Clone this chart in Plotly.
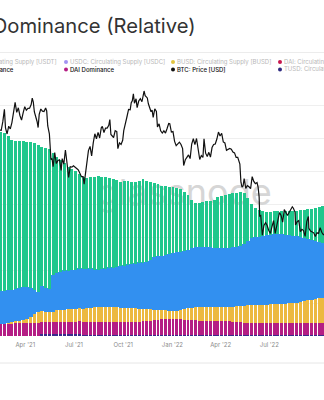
import pandas as pd
import plotly.graph_objects as go

# ---------------------------------------------------------------
# Weekly stablecoin dominance (%), stacked bottom -> top
# ---------------------------------------------------------------
week_start = "2021-02-14"

tusd_dom = [0.1, 0.1, 0.1, 0.1, 0.1, 0.1, 0.1, 0.1, 0.1, 0.1,
            0.1, 0.6, 0.6, 0.6, 0.6, 0.6, 0.6, 0.6, 0.6, 0.6,
            0.6, 0.6, 0.35, 0.35, 0.35, 0.35, 0.35, 0.35, 0.35, 0.35,
            0.35, 0.35, 0.35, 0.35, 0.35, 0.35, 0.35, 0.35, 0.35, 0.35,
            0.35, 0.35, 0.35, 0.35, 0.35, 0.35, 0.35, 0.35, 0.35, 0.35,
            0.35, 0.35, 0.35, 0.35, 0.35, 0.35, 0.35, 0.35, 0.35, 0.35,
            0.35, 0.35, 0.35, 0.35, 0.35, 0.35, 0.35, 0.35, 0.35, 0.35,
            0.35, 0.35, 0.35, 0.35, 0.35, 0.35, 0.35, 0.35, 0.35, 0.35,
            0.35, 0.35, 0.35, 0.35, 0.35, 0.35, 0.35]

dai_dom = [3.8, 3.8, 3.8, 3.8, 3.8, 3.8, 3.8, 3.8, 3.8, 3.8,
           3.8, 3.6, 3.6, 3.6, 3.6, 3.7, 3.7, 3.7, 3.7, 3.7,
           3.7, 3.8, 3.8, 3.8, 3.8, 3.8, 3.8, 3.8, 3.8, 3.8,
           3.8, 3.8, 3.8, 3.8, 3.8, 3.8, 3.8, 3.8, 4.1, 4.1,
           4.1, 4.4, 4.4, 4.7, 4.7, 4.7, 4.7, 4.7, 4.7, 4.4,
           4.4, 4.4, 4.4, 4.1, 4.1, 4.1, 4.1, 4.1, 4.1, 4.1,
           4.1, 4.1, 3.8, 3.8, 3.8, 3.5, 3.5, 3.5, 3.5, 3.5,
           3.5, 3.5, 3.5, 3.5, 3.5, 3.5, 3.5, 3.5, 3.5, 3.5,
           3.5, 3.5, 3.5, 3.5, 3.5, 3.5, 3.5]

busd_dom = [0.0, 0.0, 0.3, 0.6, 0.9, 0.9, 1.2, 1.5, 2.1, 3.0,
            3.6, 3.6, 3.3, 3.3, 3.3, 3.6, 3.6, 3.6, 3.9, 3.9,
            3.9, 4.2, 4.2, 4.5, 4.5, 4.8, 4.8, 4.8, 4.8, 4.8,
            4.8, 4.8, 4.5, 4.5, 4.5, 4.5, 4.5, 4.2, 3.9, 3.9,
            3.9, 3.3, 3.3, 3.0, 3.0, 2.7, 2.7, 2.7, 3.0, 3.6,
            3.9, 3.9, 4.2, 4.5, 4.5, 4.5, 4.5, 4.5, 4.5, 4.5,
            4.5, 4.5, 4.8, 5.2, 5.2, 5.5, 5.8, 5.8, 5.8, 5.8,
            5.8, 5.8, 6.1, 6.1, 6.1, 6.1, 6.1, 6.4, 6.4, 6.4,
            6.7, 7.0, 7.3, 7.3, 7.6, 7.9, 7.9]

usdc_dom = [9.7, 9.7, 9.7, 9.4, 9.4, 9.7, 9.7, 9.4, 8.5, 7.0,
            5.8, 7.3, 7.0, 6.7, 10.9, 11.2, 11.5, 11.8, 11.5, 11.8,
            11.8, 11.8, 12.1, 11.8, 11.8, 11.2, 11.2, 11.5, 11.5, 11.8,
            11.8, 12.1, 12.7, 12.7, 13.0, 13.3, 13.3, 13.9, 13.9, 14.2,
            14.8, 15.8, 16.1, 16.1, 16.4, 17.0, 17.3, 17.6, 17.3, 17.3,
            17.3, 17.9, 17.9, 17.9, 17.9, 17.9, 17.9, 17.6, 17.6, 17.6,
            17.6, 17.6, 17.9, 17.6, 17.9, 18.5, 19.1, 20.0, 20.3, 20.3,
            20.6, 20.9, 20.6, 20.9, 20.9, 20.9, 20.6, 20.3, 20.0, 20.0,
            19.4, 18.8, 18.2, 17.9, 17.3, 16.7, 16.4]

usdt_dom = [48.2, 47.9, 46.7, 45.5, 44.8, 44.5, 44.2, 43.9, 44.2, 44.5,
            44.5, 42.1, 42.4, 42.4, 37.0, 35.2, 33.9, 32.7, 31.5, 30.6,
            30.0, 28.8, 27.6, 27.3, 27.6, 27.9, 28.2, 27.6, 27.6, 27.0,
            26.7, 26.1, 25.2, 25.5, 25.2, 24.8, 24.8, 24.8, 25.2, 24.5,
            23.6, 22.4, 21.8, 21.2, 20.9, 20.3, 20.0, 19.4, 19.1, 17.9,
            16.7, 14.8, 13.6, 13.6, 13.9, 14.2, 14.2, 14.8, 15.5, 15.8,
            16.1, 16.4, 16.4, 16.4, 16.4, 15.5, 13.0, 10.3, 8.8, 8.2,
            7.6, 7.0, 7.0, 7.0, 7.0, 7.0, 7.3, 7.3, 7.6, 7.6,
            8.2, 8.5, 9.1, 9.4, 10.0, 10.6, 11.2]

# ---------------------------------------------------------------
# BTC price (USD)
# ---------------------------------------------------------------
btc_dates = [
    "2021-02-12", "2021-02-15", "2021-02-18", "2021-02-21", "2021-02-23", "2021-02-26",
    "2021-03-01", "2021-03-04", "2021-03-07", "2021-03-10", "2021-03-13", "2021-03-16",
    "2021-03-19", "2021-03-22", "2021-03-25", "2021-03-28", "2021-03-31", "2021-04-03",
    "2021-04-06", "2021-04-09", "2021-04-12", "2021-04-14", "2021-04-16", "2021-04-18",
    "2021-04-21", "2021-04-23", "2021-04-25", "2021-04-27", "2021-04-30", "2021-05-03",
    "2021-05-06", "2021-05-09", "2021-05-11", "2021-05-13", "2021-05-16", "2021-05-19",
    "2021-05-21", "2021-05-23", "2021-05-26", "2021-05-29", "2021-06-01", "2021-06-04",
    "2021-06-07", "2021-06-09", "2021-06-12", "2021-06-15", "2021-06-18", "2021-06-21",
    "2021-06-24", "2021-06-27", "2021-06-30", "2021-07-03", "2021-07-06", "2021-07-09",
    "2021-07-12", "2021-07-15", "2021-07-18", "2021-07-20", "2021-07-22", "2021-07-25",
    "2021-07-28", "2021-07-31", "2021-08-03", "2021-08-06", "2021-08-09", "2021-08-12",
    "2021-08-15", "2021-08-18", "2021-08-21", "2021-08-23", "2021-08-26", "2021-08-29",
    "2021-09-01", "2021-09-04", "2021-09-06", "2021-09-08", "2021-09-11", "2021-09-13",
    "2021-09-16", "2021-09-19", "2021-09-21", "2021-09-24", "2021-09-27", "2021-09-30",
    "2021-10-02", "2021-10-05", "2021-10-08", "2021-10-11", "2021-10-14", "2021-10-16",
    "2021-10-18", "2021-10-20", "2021-10-22", "2021-10-25", "2021-10-27", "2021-10-30",
    "2021-11-02", "2021-11-05", "2021-11-08", "2021-11-09", "2021-11-11", "2021-11-13",
    "2021-11-15", "2021-11-17", "2021-11-19", "2021-11-22", "2021-11-24", "2021-11-26",
    "2021-11-29", "2021-12-02", "2021-12-04", "2021-12-07", "2021-12-10", "2021-12-13",
    "2021-12-16", "2021-12-19", "2021-12-22", "2021-12-25", "2021-12-27", "2021-12-30",
    "2022-01-02", "2022-01-05", "2022-01-08", "2022-01-11", "2022-01-14", "2022-01-17",
    "2022-01-20", "2022-01-22", "2022-01-25", "2022-01-28", "2022-01-31", "2022-02-03",
    "2022-02-06", "2022-02-09", "2022-02-12", "2022-02-15", "2022-02-18", "2022-02-21",
    "2022-02-24", "2022-02-27", "2022-03-01", "2022-03-04", "2022-03-07", "2022-03-10",
    "2022-03-13", "2022-03-16", "2022-03-19", "2022-03-22", "2022-03-25", "2022-03-28",
    "2022-03-31", "2022-04-03", "2022-04-06", "2022-04-09", "2022-04-12", "2022-04-15",
    "2022-04-18", "2022-04-21", "2022-04-24", "2022-04-27", "2022-04-30", "2022-05-03",
    "2022-05-05", "2022-05-07", "2022-05-09", "2022-05-11", "2022-05-13", "2022-05-15",
    "2022-05-18", "2022-05-21", "2022-05-24", "2022-05-27", "2022-05-30", "2022-06-02",
    "2022-06-05", "2022-06-08", "2022-06-10", "2022-06-12", "2022-06-13", "2022-06-15",
    "2022-06-18", "2022-06-21", "2022-06-24", "2022-06-27", "2022-06-30", "2022-07-03",
    "2022-07-06", "2022-07-09", "2022-07-12", "2022-07-15", "2022-07-18", "2022-07-20",
    "2022-07-23", "2022-07-26", "2022-07-29", "2022-08-01", "2022-08-04", "2022-08-07",
    "2022-08-10", "2022-08-13", "2022-08-15", "2022-08-18", "2022-08-19", "2022-08-22",
    "2022-08-25", "2022-08-28", "2022-08-31", "2022-09-03", "2022-09-06", "2022-09-09",
    "2022-09-12", "2022-09-13", "2022-09-16", "2022-09-19", "2022-09-22", "2022-09-25",
    "2022-09-28", "2022-10-01", "2022-10-04", "2022-10-07", "2022-10-10", "2022-10-12",
]
btc_price = [
    47900, 47800, 51600, 57500, 48900, 46300,
    49600, 48400, 51200, 55900, 61200, 56000,
    58300, 54500, 52300, 55800, 58900, 57100,
    58000, 58100, 60000, 63500, 61300, 56200,
    53800, 51700, 49000, 55000, 57700, 56600,
    56400, 58200, 56700, 49700, 46400, 37000,
    37300, 34700, 39300, 35700, 36700, 36900,
    33600, 37300, 35500, 40200, 35800, 31600,
    34700, 34600, 35000, 34700, 34200, 33800,
    32700, 31800, 31800, 29800, 32100, 35400,
    40000, 41500, 38200, 42800, 46400, 44400,
    47000, 44700, 48900, 49500, 46900, 48800,
    48800, 50000, 52600, 46100, 45200, 44900,
    47700, 47300, 40700, 42800, 42200, 43800,
    47700, 51500, 53900, 57500, 57300, 61000,
    62000, 66000, 60700, 63100, 58400, 61900,
    63200, 61500, 67500, 67600, 64900, 64200,
    63600, 60400, 58100, 56300, 57100, 53600,
    57800, 56500, 49300, 50600, 47600, 46700,
    47600, 46700, 48600, 50800, 50700, 47100,
    47300, 43400, 41800, 42700, 43100, 42200,
    40700, 35100, 36900, 37700, 38500, 37300,
    42400, 44400, 42200, 44500, 40000, 37000,
    38300, 37700, 44400, 39100, 38000, 39400,
    37800, 41100, 42200, 42400, 44300, 47100,
    45500, 46600, 43200, 42800, 40100, 40600,
    40800, 40500, 39500, 39200, 37700, 37700,
    36600, 35500, 30300, 29000, 29300, 31300,
    28700, 29400, 29100, 28600, 31800, 30500,
    29900, 30200, 29100, 26600, 22500, 22600,
    19000, 20700, 21200, 20700, 19800, 19300,
    20500, 21600, 19300, 20800, 22400, 23200,
    22600, 21300, 23800, 23300, 22600, 23200,
    23900, 24400, 24100, 23300, 20800, 21400,
    21600, 19600, 20000, 19800, 18800, 21400,
    22400, 20200, 19700, 19500, 19400, 18800,
    19400, 19300, 20300, 19500, 19100, 19100,
]

# ---------------------------------------------------------------
# Styling
# ---------------------------------------------------------------
FONT = "Inter"
W, H = 324, 400
TOP, BOTTOM = 72, 336          # plot area in pixels
PLOT_H = BOTTOM - TOP

C_USDT = "#20c78c"
C_USDC = "#3290f0"
C_BUSD = "#ecb940"
C_DAI = "#b41d84"
C_TUSD = "#3a2a8c"


def px_x(p):
    return p / W


def px_y(p):
    return (BOTTOM - p) / PLOT_H


weeks = pd.date_range(week_start, periods=len(usdt_dom), freq="7D")

fig = go.Figure()

# faint watermark, kept behind the stacked bars
fig.add_trace(go.Scatter(
    x=[pd.Timestamp("2022-01-23")], y=[42.4], mode="text", text=["glassnode"],
    textfont=dict(family=FONT, size=36, color="#d6d6d6"),
    hoverinfo="skip", showlegend=False, zorder=-1,
))

stack = [
    ("TUSD Dominance", tusd_dom, C_TUSD),
    ("DAI Dominance", dai_dom, C_DAI),
    ("BUSD Dominance", busd_dom, C_BUSD),
    ("USDC Dominance", usdc_dom, C_USDC),
    ("USDT Dominance", usdt_dom, C_USDT),
]
for name, vals, col in stack:
    line_w = 1.0 if col == C_USDC else 0
    fig.add_trace(go.Bar(
        x=weeks, y=vals, name=name, marker_color=col,
        marker_line_color=col, marker_line_width=line_w,
        showlegend=False, zorder=0,
    ))

fig.add_trace(go.Scatter(
    x=pd.to_datetime(btc_dates), y=btc_price, name="BTC: Price [USD]",
    mode="lines", line=dict(color="#111111", width=1.2),
    yaxis="y3", showlegend=False, zorder=2,
))

x_range = ["2021-02-12 18:00", "2022-10-11 05:00"]

fig.update_layout(
    width=W, height=H, autosize=False,
    margin=dict(l=0, r=0, t=TOP, b=H - BOTTOM, pad=0),
    paper_bgcolor="white", plot_bgcolor="white",
    barmode="stack", bargap=0.22,
    font=dict(family=FONT),
    xaxis=dict(
        type="date", range=x_range, showgrid=False, zeroline=False,
        showline=False, ticks="", dtick="M3", tick0="2021-01-01",
        tickformat="%b '%y", ticklabelstandoff=4,
        tickfont=dict(family=FONT, size=6, color="#8c8c8c"),
    ),
    yaxis=dict(
        range=[0, 80], dtick=10, showgrid=True, gridcolor="#efefef",
        gridwidth=1, zeroline=False, showticklabels=False, showline=False,
    ),
    yaxis3=dict(
        overlaying="y", type="log", range=[3.8934, 4.9026], showgrid=False,
        zeroline=False, showticklabels=False, showline=False,
    ),
)

annotations = []
shapes = []

# title
annotations.append(dict(
    text="Stablecoin Supply Dominance (Relative)", xref="paper", yref="paper",
    x=px_x(198), y=px_y(26), xanchor="right", yanchor="middle",
    showarrow=False, font=dict(family=FONT, size=20.2, color="#333333"),
))

# separators
for yp, col in [(52.5, "#ececec"), (363, "#e6e6e6")]:
    shapes.append(dict(type="line", xref="paper", yref="paper",
                       x0=-0.1, x1=1.1, y0=px_y(yp), y1=px_y(yp),
                       line=dict(color=col, width=1)))

# legend (two rows, four columns)
legend_cols = [-41, 66, 173, 280]
legend_rows = [
    (62, [("USDT: Circulating Supply [USDT]", "#8fe0c0", "#b8b8b8"),
          ("USDC: Circulating Supply [USDC]", "#a393f3", "#b8b8b8"),
          ("BUSD: Circulating Supply [BUSD]", "#e2c440", "#b8b8b8"),
          ("DAI: Circulating Supply [DAI]", "#c8174f", "#b8b8b8")]),
    (69.5, [("USDT Dominance", C_USDT, "#111111"),
            ("DAI Dominance", C_DAI, "#111111"),
            ("BTC: Price [USD]", "#111111", "#111111"),
            ("TUSD: Circulating Supply [TUSD]", "#2e2a80", "#b8b8b8")]),
]
for ry, items in legend_rows:
    for cx, (label, dot, tcol) in zip(legend_cols, items):
        shapes.append(dict(type="circle", xref="paper", yref="paper",
                           x0=px_x(cx - 2), x1=px_x(cx + 2),
                           y0=px_y(ry + 2), y1=px_y(ry - 2),
                           fillcolor=dot, line=dict(width=0)))
        annotations.append(dict(
            text=label, xref="paper", yref="paper",
            x=px_x(cx + 3), y=px_y(ry), xanchor="left", yanchor="middle",
            showarrow=False, borderpad=0,
            font=dict(family=FONT, size=6, color=tcol,
                      weight=500 if tcol == "#111111" else 400),
        ))

fig.update_layout(annotations=annotations, shapes=shapes)

fig.write_html("out.html")
